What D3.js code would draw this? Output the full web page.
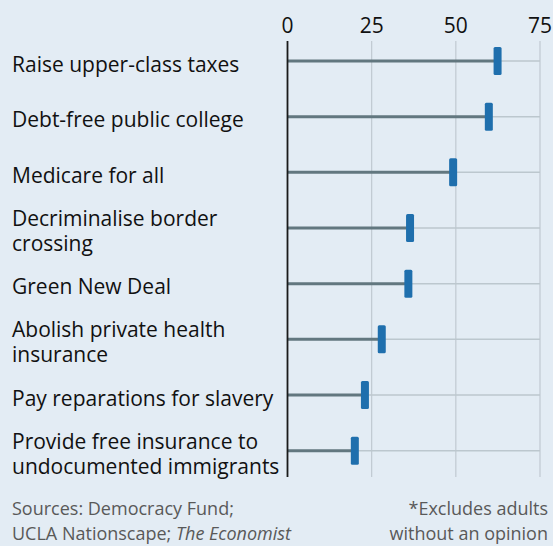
<!DOCTYPE html>
<html>
<head>
<meta charset="utf-8">
<script src="https://cdn.jsdelivr.net/npm/d3@7"></script>
<style>
  body { margin: 0; background: #e3ecf4; }
  svg { display: block; font-family: "Open Sans", Lato, sans-serif; }
  .label { font-size: 21px; fill: #111; }
  .tick-label { font-size: 21px; fill: #111; }
  .note { font-size: 18px; fill: #595959; }
</style>
</head>
<body>
<div class="chart"></div>
<script>
// Policy support, % of respondents*
var policies = [
  ["Raise upper-class taxes"],
  ["Debt-free public college"],
  ["Medicare for all"],
  ["Decriminalise border", "crossing"],
  ["Green New Deal"],
  ["Abolish private health", "insurance"],
  ["Pay reparations for slavery"],
  ["Provide free insurance to", "undocumented immigrants"]
];
var support = [62.4, 59.8, 49.2, 36.4, 35.9, 28.0, 23.0, 20.0];
var ticks = [0, 25, 50, 75];

var svgWidth = 553;
var svgHeight = 546;

var svg = d3.select(".chart")
  .append("svg")
  .attr("width", svgWidth)
  .attr("height", svgHeight);

svg.append("rect")
  .attr("width", svgWidth)
  .attr("height", svgHeight)
  .attr("fill", "#e3ecf4");

var xScale = d3.scaleLinear().domain([0, 75]).range([287.5, 540]);
var yScale = d3.scalePoint()
  .domain(d3.range(policies.length))
  .range([61, 450.7]);

var axisTop = 41, axisBottom = 477;

// gridlines
svg.selectAll(".grid")
  .data(ticks.slice(1))
  .enter()
  .append("line")
  .attr("class", "grid")
  .attr("x1", function(d) { return xScale(d); })
  .attr("x2", function(d) { return xScale(d); })
  .attr("y1", axisTop)
  .attr("y2", axisBottom)
  .attr("stroke", "#c0c9d0")
  .attr("stroke-width", 1.2);

// tick labels
svg.selectAll(".tick-label")
  .data(ticks)
  .enter()
  .append("text")
  .attr("class", "tick-label")
  .attr("x", function(d) { return xScale(d); })
  .attr("y", 33)
  .attr("text-anchor", "middle")
  .text(function(d) { return d; });

// light row lines to the end of scale
svg.selectAll(".row-bg")
  .data(support)
  .enter()
  .append("line")
  .attr("class", "row-bg")
  .attr("x1", xScale(0))
  .attr("x2", xScale(75))
  .attr("y1", function(d, i) { return yScale(i); })
  .attr("y2", function(d, i) { return yScale(i); })
  .attr("stroke", "#bcc7ce")
  .attr("stroke-width", 1.5);

// stems
svg.selectAll(".stem")
  .data(support)
  .enter()
  .append("line")
  .attr("class", "stem")
  .attr("x1", xScale(0))
  .attr("x2", function(d) { return xScale(d); })
  .attr("y1", function(d, i) { return yScale(i); })
  .attr("y2", function(d, i) { return yScale(i); })
  .attr("stroke", "#62777f")
  .attr("stroke-width", 3);

// zero axis
svg.append("line")
  .attr("x1", xScale(0))
  .attr("x2", xScale(0))
  .attr("y1", axisTop)
  .attr("y2", axisBottom)
  .attr("stroke", "#1a1a1a")
  .attr("stroke-width", 1.8);

// markers
svg.selectAll(".marker")
  .data(support)
  .enter()
  .append("rect")
  .attr("class", "marker")
  .attr("x", function(d) { return xScale(d) - 4; })
  .attr("y", function(d, i) { return yScale(i) - 14; })
  .attr("width", 8)
  .attr("height", 28)
  .attr("rx", 1.5)
  .attr("fill", "#1f6fad");

// category labels
var labels = svg.selectAll(".label")
  .data(policies)
  .enter()
  .append("text")
  .attr("class", "label")
  .attr("x", 12)
  .attr("y", function(d, i) {
    return yScale(i) + 10.5 - (d.length - 1) * 12.5;
  });

labels.selectAll("tspan")
  .data(function(d) { return d; })
  .enter()
  .append("tspan")
  .attr("x", 12)
  .attr("dy", function(d, i) { return i === 0 ? 0 : 25; })
  .text(function(d) { return d; });

// footnotes
var src = svg.append("text").attr("class", "note").attr("x", 12).attr("y", 515);
src.append("tspan").text("Sources: Democracy Fund;");
var src2 = svg.append("text").attr("class", "note").attr("x", 12).attr("y", 540);
src2.append("tspan").text("UCLA Nationscape; ");
src2.append("tspan").style("font-style", "italic").text("The Economist");

svg.append("text").attr("class", "note")
  .attr("x", 548).attr("y", 515).attr("text-anchor", "end")
  .text("*Excludes adults");
svg.append("text").attr("class", "note")
  .attr("x", 548).attr("y", 540).attr("text-anchor", "end")
  .text("without an opinion");
</script>
</body>
</html>
